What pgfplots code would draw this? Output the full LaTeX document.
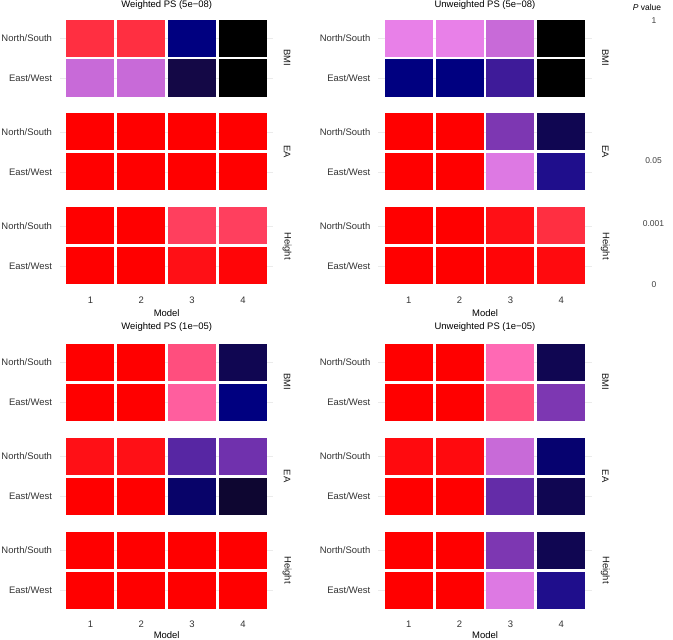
\documentclass[border=0pt]{standalone}
\usepackage{fontspec}
\setmainfont{Liberation Sans}
\usepackage{pgfplots}
\usepackage{pgfplotstable}
\pgfplotsset{compat=1.18}

% colour position of each tile on the P value scale (0 = red, 100 = black)
% rows: y=6.7 BMI N/S, 5.7 BMI E/W, 4.35 EA N/S, 3.35 EA E/W, 2 Height N/S, 1 Height E/W
\pgfplotstableread{
x y c
1 6.7 9
2 6.7 9
3 6.7 80
4 6.7 100
1 5.7 46
2 5.7 46
3 5.7 90
4 5.7 100
1 4.35 0
2 4.35 0
3 4.35 0
4 4.35 0
1 3.35 0
2 3.35 0
3 3.35 0
4 3.35 0
1 2 0
2 2 0
3 2 12
4 2 12
1 1 0
2 1 0
3 1 3
4 1 1
}\wfive
\pgfplotstableread{
x y c
1 6.7 40
2 6.7 40
3 6.7 46
4 6.7 100
1 5.7 80
2 5.7 80
3 5.7 70
4 5.7 100
1 4.35 0
2 4.35 0
3 4.35 60
4 4.35 88
1 3.35 0
2 3.35 0
3 3.35 42
4 3.35 75
1 2 0
2 2 0
3 2 3
4 2 9
1 1 0
2 1 0
3 1 1
4 1 2
}\ufive
\pgfplotstableread{
x y c
1 6.7 0
2 6.7 0
3 6.7 15
4 6.7 88
1 5.7 0
2 5.7 0
3 5.7 18
4 5.7 80
1 4.35 3
2 4.35 3
3 4.35 66
4 4.35 62
1 3.35 0
2 3.35 0
3 3.35 84
4 3.35 93
1 2 0
2 2 0
3 2 0
4 2 0
1 1 0
2 1 0
3 1 0
4 1 0
}\wone
\pgfplotstableread{
x y c
1 6.7 0
2 6.7 0
3 6.7 20
4 6.7 88
1 5.7 0
2 5.7 0
3 5.7 15
4 5.7 60
1 4.35 2
2 4.35 2
3 4.35 46
4 4.35 83
1 3.35 0
2 3.35 0
3 3.35 64
4 3.35 88
1 2 0
2 2 0
3 2 60
4 2 88
1 1 0
2 1 0
3 1 42
4 1 75
}\uone

\pgfdeclareplotmark{tile}{%
  \pgfpathrectangle{\pgfqpoint{-24bp}{-18.5bp}}{\pgfqpoint{48bp}{37bp}}%
  \pgfusepathqfill}

\newcommand\lab{\fontsize{9.5}{11}\selectfont}

\tikzset{strip/.style={font=\lab, text=black!90, xshift=13.6bp, rotate=-90}}

\pgfplotsset{
  colormap={pv}{rgb255(0cm)=(255,0,0) rgb255(1cm)=(255,52,72)
    rgb255(2cm)=(255,105,180) rgb255(4cm)=(232,128,232)
    rgb255(6cm)=(125,55,178) rgb255(8cm)=(0,0,128) rgb255(9cm)=(20,8,70)
    rgb255(10cm)=(0,0,0)},
  panel/.style={
    scale only axis, width=213.57bp, height=276bp,
    xmin=0.4, xmax=4.6, ymin=0.4, ymax=7.3,
    xtick={1,2,3,4}, xticklabels={1,2,3,4},
    ytick={1,2,3.35,4.35,5.7,6.7},
    yticklabels={East/West,North/South,East/West,North/South,East/West,North/South},
    axis line style={draw=none}, major tick length=0pt,
    ymajorgrids, major grid style={draw=black!8, line width=0.6bp},
    tick label style={font=\lab, text=black!80},
    yticklabel style={anchor=east, inner sep=0pt, xshift=-7.7bp},
    xticklabel style={anchor=center, inner sep=0pt, yshift=-10bp},
    colormap name=pv, point meta min=0, point meta max=100,
    anchor=north west, clip=false,
  },
  tiles/.style={scatter, only marks, mark=tile, point meta=explicit,
    scatter/use mapped color={draw=none, fill=mapped color}},
}

\begin{document}
\begin{tikzpicture}
\path[use as bounding box] (0,0) rectangle (673bp,-640bp);

\begin{axis}[panel, at={(59.9bp,-14bp)}]
  \addplot[tiles] table[meta=c] {\wfive};
  \node[strip] at (axis cs:4.6,6.2) {BMI};
  \node[strip] at (axis cs:4.6,3.85) {EA};
  \node[strip] at (axis cs:4.6,1.5) {Height};
\end{axis}

\begin{axis}[panel, at={(378.2bp,-14bp)}]
  \addplot[tiles] table[meta=c] {\ufive};
  \node[strip] at (axis cs:4.6,6.2) {BMI};
  \node[strip] at (axis cs:4.6,3.85) {EA};
  \node[strip] at (axis cs:4.6,1.5) {Height};
\end{axis}

\begin{axis}[panel, at={(59.9bp,-338bp)}]
  \addplot[tiles] table[meta=c] {\wone};
  \node[strip] at (axis cs:4.6,6.2) {BMI};
  \node[strip] at (axis cs:4.6,3.85) {EA};
  \node[strip] at (axis cs:4.6,1.5) {Height};
\end{axis}

\begin{axis}[panel, at={(378.2bp,-338bp)}]
  \addplot[tiles] table[meta=c] {\uone};
  \node[strip] at (axis cs:4.6,6.2) {BMI};
  \node[strip] at (axis cs:4.6,3.85) {EA};
  \node[strip] at (axis cs:4.6,1.5) {Height};
\end{axis}

% panel titles and x axis titles
\node[font=\lab] at (166.7bp,-5.5bp) {Weighted PS (5e−08)};
\node[font=\lab] at (485bp,-5.5bp) {Unweighted PS (5e−08)};
\node[font=\lab] at (166.7bp,-327bp) {Weighted PS (1e−05)};
\node[font=\lab] at (485bp,-327bp) {Unweighted PS (1e−05)};
\node[font=\lab] at (166.7bp,-313.3bp) {Model};
\node[font=\lab] at (485bp,-313.3bp) {Model};
\node[font=\lab] at (166.7bp,-635bp) {Model};
\node[font=\lab] at (485bp,-635bp) {Model};

% legend labels (colour bar is blank in the source)
\node[font=\fontsize{8.5}{10}\selectfont] at (647bp,-7.5bp) {\textit{P} value};
\begin{scope}[every node/.style={font=\fontsize{8.5}{10}\selectfont, text=black!75}]
  \node at (654bp,-21bp) {1};
  \node at (653.5bp,-161bp) {0.05};
  \node at (653.5bp,-224bp) {0.001};
  \node at (654bp,-285bp) {0};
\end{scope}
\end{tikzpicture}
\end{document}
